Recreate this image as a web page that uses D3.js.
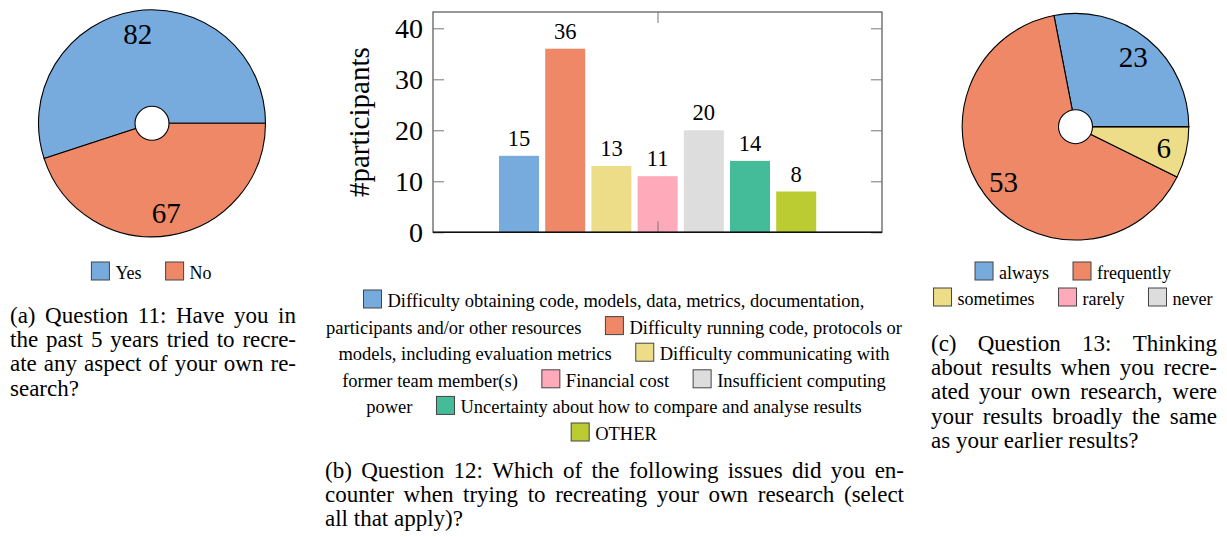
<!DOCTYPE html>
<html>
<head>
<meta charset="utf-8">
<script src="https://cdn.jsdelivr.net/npm/d3@7"></script>
<style>
  html, body { margin: 0; padding: 0; background: #fff; }
  svg { display: block; font-family: "Liberation Serif", "Times New Roman", serif; }
</style>
</head>
<body>
<script>
// ---- survey data ----
const q11Labels = ["Yes", "No"];
const q11Values = [82, 67];

const q12Issues = [
  "Difficulty obtaining code, models, data, metrics, documentation, participants and/or other resources",
  "Difficulty running code, protocols or models, including evaluation metrics",
  "Difficulty communicating with former team member(s)",
  "Financial cost",
  "Insufficient computing power",
  "Uncertainty about how to compare and analyse results",
  "OTHER"
];
const q12Counts = [15, 36, 13, 11, 20, 14, 8];
const q12YTicks = [0, 10, 20, 30, 40];
const q12YLabel = "#participants";

const q13Labels = ["always", "frequently", "sometimes", "rarely", "never"];
const q13Values = [23, 53, 6, 0, 0];

// legend line breaks: [entry index, word index the new line starts at]
const q12LegendBreaks = [[0, 7], [1, 5], [2, 3], [4, 2], [6, 0]];
const q13LegendBreaks = [[2, 0]];

const captionA = [
  "(a) Question 11: Have you in",
  "the past 5 years tried to recre-",
  "ate any aspect of your own re-",
  "search?"
];
const captionB = [
  "(b) Question 12: Which of the following issues did you en-",
  "counter when trying to recreating your own research (select",
  "all that apply)?"
];
const captionC = [
  "(c) Question 13: Thinking",
  "about results when you recre-",
  "ated your own research, were",
  "your results broadly the same",
  "as your earlier results?"
];

// ---- styling ----
const palette = ["#77AADD", "#EE8866", "#EEDD88", "#FFAABB", "#DDDDDD", "#44BB99", "#BBCC33"];

const W = 1227, H = 537;
const svg = d3.select("body").append("svg").attr("width", W).attr("height", H);

const measurer = svg.append("text").attr("visibility", "hidden");
function textWidth(str, size) {
  measurer.attr("font-size", size).text(str);
  return measurer.node().getComputedTextLength();
}

// ---- pie charts ----
function drawPie(cx, cy, r, values, colors) {
  const g = svg.append("g").attr("transform", `translate(${cx},${cy})`);
  const pie = d3.pie().sort(null).value(d => d)
    .startAngle(Math.PI / 2).endAngle(Math.PI / 2 - 2 * Math.PI);
  const arcs = pie(values);
  const arc = d3.arc().innerRadius(0).outerRadius(r);
  g.selectAll("path").data(arcs).join("path")
    .attr("d", arc)
    .attr("fill", (d, i) => colors[i])
    .attr("stroke", "#000").attr("stroke-width", 1.1).attr("stroke-linejoin", "round");
  g.append("circle").attr("r", 17).attr("fill", "#fff").attr("stroke", "#000").attr("stroke-width", 1.1);
  const labelArc = d3.arc().innerRadius(0.8 * r).outerRadius(0.8 * r);
  g.selectAll("text.val").data(arcs.filter(d => d.value > 0)).join("text")
    .attr("class", "val")
    .attr("transform", d => `translate(${labelArc.centroid(d)})`)
    .attr("text-anchor", "middle").attr("dy", "0.35em")
    .attr("font-size", 29).attr("fill", "#000")
    .text(d => d.value);
}

// ---- legend with centred lines ----
function flowLegend(entries, breaks, cx, baseline0, lineH, fontSize) {
  const sq = 18, sqGap = 6, itemGap = 24, wordGap = fontSize * 0.25;
  const isBreak = (ei, wi) => breaks.some(b => b[0] === ei && b[1] === wi);
  const lines = [[]];
  lines[0].width = 0;
  let cur = 0;
  entries.forEach((e, ei) => {
    const words = e.text.split(" ");
    words.forEach((w, wi) => {
      const ww = textWidth(w, fontSize);
      if (isBreak(ei, wi) && lines[lines.length - 1].length) {
        lines.push([]);
        lines[lines.length - 1].width = 0;
        cur = 0;
      }
      const line = lines[lines.length - 1];
      let lead = 0;
      if (line.length) lead = wi === 0 ? itemGap : wordGap;
      let x = cur + lead;
      if (wi === 0) {
        line.push({ type: "sq", x: x, color: e.color });
        x += sq + sqGap;
      }
      line.push({ type: "word", x: x, text: w });
      cur = x + ww;
      line.width = cur;
    });
  });
  const g = svg.append("g");
  lines.forEach((line, li) => {
    const x0 = cx - line.width / 2;
    const yb = baseline0 + li * lineH;
    line.forEach(t => {
      if (t.type === "sq") {
        g.append("rect").attr("x", x0 + t.x).attr("y", yb - sq + 1)
          .attr("width", sq).attr("height", sq)
          .attr("fill", t.color).attr("stroke", "#444").attr("stroke-width", 1);
      } else {
        g.append("text").attr("x", x0 + t.x).attr("y", yb)
          .attr("font-size", fontSize).attr("fill", "#000").text(t.text);
      }
    });
  });
}

// ---- justified caption ----
function caption(lines, x0, x1, baseline0, lineH, fontSize) {
  const g = svg.append("g").attr("font-size", fontSize).attr("fill", "#000");
  lines.forEach((line, li) => {
    const y = baseline0 + li * lineH;
    if (li === lines.length - 1) {
      g.append("text").attr("x", x0).attr("y", y).text(line);
      return;
    }
    const words = line.split(" ");
    const widths = words.map(w => textWidth(w, fontSize));
    const gap = (x1 - x0 - d3.sum(widths)) / (words.length - 1);
    let x = x0;
    words.forEach((w, i) => {
      g.append("text").attr("x", x).attr("y", y).text(w);
      x += widths[i] + gap;
    });
  });
}

// (a) Question 11
drawPie(152, 123.3, 113.5, q11Values, palette);
flowLegend(q11Labels.map((t, i) => ({ text: t, color: palette[i] })), [], 151.5, 279, 26, 18);
caption(captionA, 10, 296, 323, 24.2, 23);

// (c) Question 13
drawPie(1075.5, 126.7, 113.3, q13Values, palette);
flowLegend(q13Labels.map((t, i) => ({ text: t, color: palette[i] })), q13LegendBreaks, 1073, 279, 26, 18);
caption(captionC, 931, 1217, 351, 24.2, 23);

// (b) Question 12 bar chart
const frame = { left: 433, right: 882, top: 12, bottom: 232.3 };
const y = d3.scaleLinear().domain([0, 43.2]).range([frame.bottom, frame.top]);
const xGroup = d3.scalePoint().domain(["Q12"]).range([frame.left, frame.right]).padding(0.5);
const xSeries = d3.scaleBand().domain(q12Issues).range([-161.6, 161.8])
  .paddingInner(0.134).paddingOuter(0.067);

const chart = svg.append("g");
const gc = xGroup("Q12");

chart.selectAll("rect.bar").data(q12Counts).join("rect")
  .attr("class", "bar")
  .attr("x", (d, i) => gc + xSeries(q12Issues[i]))
  .attr("width", xSeries.bandwidth())
  .attr("y", d => y(d))
  .attr("height", d => y(0) - y(d))
  .attr("fill", (d, i) => palette[i]);

chart.selectAll("text.barval").data(q12Counts).join("text")
  .attr("class", "barval")
  .attr("x", (d, i) => gc + xSeries(q12Issues[i]) + xSeries.bandwidth() / 2)
  .attr("y", d => y(d) - 10)
  .attr("text-anchor", "middle").attr("font-size", 22.5).attr("fill", "#000")
  .text(d => d);

// frame
chart.append("rect")
  .attr("x", frame.left).attr("y", frame.top)
  .attr("width", frame.right - frame.left).attr("height", frame.bottom - frame.top)
  .attr("fill", "none").attr("stroke", "#444").attr("stroke-width", 1.1);

// axes with inward ticks
const leftAxis = d3.axisLeft(y).tickValues(q12YTicks).tickSizeInner(-11).tickSizeOuter(0).tickPadding(10);
const rightAxis = d3.axisRight(y).tickValues(q12YTicks).tickSizeInner(-11).tickSizeOuter(0).tickFormat("");
const bottomAxis = d3.axisBottom(xGroup).tickSizeInner(-11).tickSizeOuter(0).tickFormat("");
const topAxis = d3.axisTop(xGroup).tickSizeInner(-11).tickSizeOuter(0).tickFormat("");

function styleAxis(sel) {
  sel.select(".domain").remove();
  sel.selectAll(".tick line").attr("stroke", "#777").attr("stroke-width", 1);
  sel.selectAll(".tick text")
    .attr("font-family", "Liberation Serif, Times New Roman, serif")
    .attr("font-size", 28).attr("fill", "#000");
}
chart.append("g").attr("transform", `translate(${frame.left},0)`).call(leftAxis).call(styleAxis);
chart.append("g").attr("transform", `translate(${frame.right},0)`).call(rightAxis).call(styleAxis);
chart.append("g").attr("transform", `translate(0,${frame.bottom})`).call(bottomAxis).call(styleAxis);
chart.append("g").attr("transform", `translate(0,${frame.top})`).call(topAxis).call(styleAxis);

// heavier bottom axis line
chart.append("line")
  .attr("x1", frame.left).attr("x2", frame.right)
  .attr("y1", frame.bottom).attr("y2", frame.bottom)
  .attr("stroke", "#111").attr("stroke-width", 1.6);

chart.append("text")
  .attr("transform", `translate(369,${(frame.top + frame.bottom) / 2}) rotate(-90)`)
  .attr("text-anchor", "middle").attr("font-size", 29).attr("fill", "#000")
  .text(q12YLabel);

flowLegend(q12Issues.map((t, i) => ({ text: t, color: palette[i] })), q12LegendBreaks, 614, 307, 26.6, 18.5);
caption(captionB, 325, 904, 478, 24.2, 23);
</script>
</body>
</html>
